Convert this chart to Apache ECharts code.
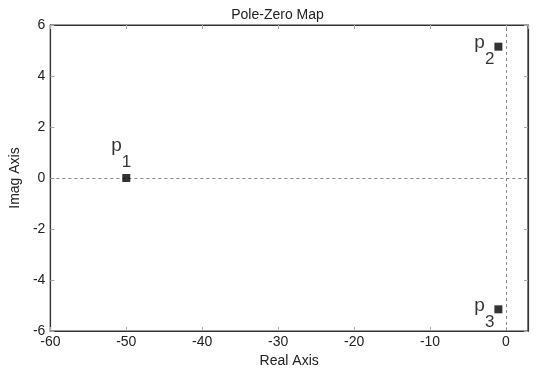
<!DOCTYPE html>
<html><head><meta charset="utf-8">
<script src="https://cdn.jsdelivr.net/npm/echarts@6/dist/echarts.min.js"></script>
<style>html,body{margin:0;padding:0;background:#fff}#c{width:555px;height:378px}</style>
</head><body><div id="c"></div>
<script>
const poleRe = [-50, -1, -1];
const poleIm = [0, 5.15, -5.15];
const poleIdx = ['1', '2', '3'];
const xTicks = [-60, -50, -40, -30, -20, -10, 0];
const yTicks = [-6, -4, -2, 0, 2, 4, 6];

const FONT = '"Liberation Sans", Arial, sans-serif';
const labelCfg = [
  { position: 'top', distance: 3, offset: [-5, 0] },
  { position: 'left', distance: 0, offset: [0, 4] },
  { position: 'left', distance: 0, offset: [0, 4] }
];
const chart = echarts.init(document.getElementById('c'));
const data = poleRe.map((x, i) => ({
  value: [x, poleIm[i]],
  label: Object.assign({ formatter: '{p|p}{s|' + poleIdx[i] + '}' }, labelCfg[i])
}));
const axisCommon = {
  axisLine: { show: true, onZero: false, lineStyle: { color: '#333', width: 1.2 } },
  axisTick: { show: true, inside: true, length: 4, lineStyle: { color: '#aaa' } },
  splitLine: { show: false }
};
const txt = { fontFamily: FONT, fontSize: 14, color: '#222' };
chart.setOption({
  animation: false,
  title: { text: 'Pole-Zero Map', left: 'center', top: 3,
    textStyle: Object.assign({ fontWeight: 'normal' }, txt) },
  grid: { left: 48, right: 27, top: 25, bottom: 47, show: true, borderColor: '#333', borderWidth: 1.2 },
  xAxis: [
    Object.assign({ type: 'value', min: -60, max: 2.9, interval: 10, position: 'bottom',
      name: 'Real Axis', nameLocation: 'middle', nameGap: 20,
      nameTextStyle: txt,
      axisLabel: Object.assign({ margin: 4, showMaxLabel: false,
        formatter: v => xTicks.includes(v) ? String(v) : '' }, txt) }, axisCommon),
    Object.assign({ type: 'value', min: -60, max: 2.9, interval: 10, position: 'top',
      axisLabel: { show: false } }, axisCommon)
  ],
  yAxis: [
    Object.assign({ type: 'value', min: -6, max: 6, interval: 2, position: 'left',
      name: 'Imag Axis', nameLocation: 'middle', nameGap: 28,
      nameTextStyle: txt,
      axisLabel: Object.assign({ margin: 5,
        formatter: v => yTicks.includes(v) ? String(v) : '' }, txt) }, axisCommon),
    Object.assign({ type: 'value', min: -6, max: 6, interval: 2, position: 'right',
      axisLabel: { show: false } }, axisCommon)
  ],
  series: [{
    type: 'scatter',
    symbol: 'rect', symbolSize: 8,
    itemStyle: { color: '#000' },
    data: data,
    label: { show: true, color: '#000',
      rich: {
        p: { fontFamily: FONT, fontSize: 19, color: '#000', verticalAlign: 'top', lineHeight: 18 },
        s: { fontFamily: FONT, fontSize: 17, color: '#000', verticalAlign: 'bottom', lineHeight: 35 }
      } },
    markLine: {
      silent: true, symbol: 'none', label: { show: false },
      lineStyle: { color: '#888', type: [3, 3], width: 1 },
      data: [{ xAxis: 0 }, { yAxis: 0 }]
    },
    z: 5
  }]
});
</script></body></html>
